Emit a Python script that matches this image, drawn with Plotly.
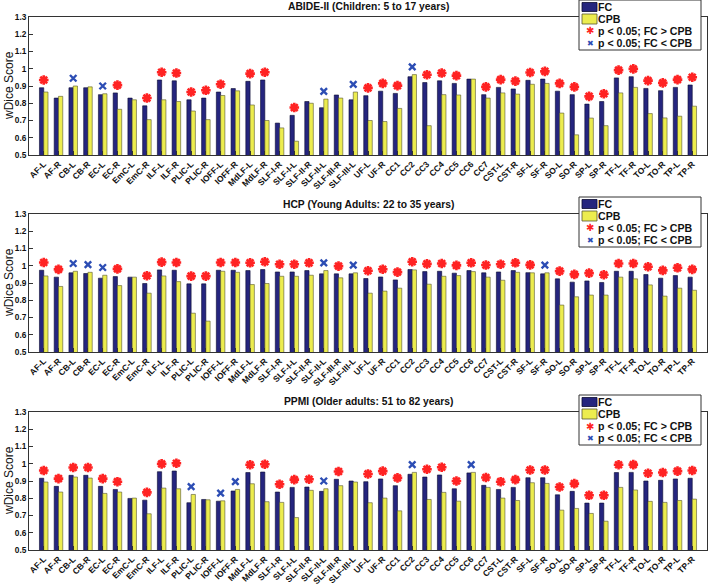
import plotly.graph_objects as go
from plotly.subplots import make_subplots

tracts = ["AF-L", "AF-R", "CB-L", "CB-R", "EC-L", "EC-R", "EmC-L", "EmC-R",
          "ILF-L", "ILF-R", "PLIC-L", "PLIC-R", "IOFF-L", "IOFF-R", "MdLF-L",
          "MdLF-R", "SLF-I-R", "SLF-I-L", "SLF-II-R", "SLF-II-L", "SLF-III-R",
          "SLF-III-L", "UF-L", "UF-R", "CC1", "CC2", "CC3", "CC4", "CC5", "CC6",
          "CC7", "CST-L", "CST-R", "SF-L", "SF-R", "SO-L", "SO-R", "SP-L", "SP-R",
          "TF-L", "TF-R", "TO-L", "TO-R", "TP-L", "TP-R"]

titles = ["ABIDE-II (Children: 5 to 17 years)",
          "HCP (Young Adults: 22 to 35 years)",
          "PPMI (Older adults: 51 to 82 years)"]

# r = p < 0.05 and FC > CPB, b = p < 0.05 and FC < CPB, - = not significant
fc_abide = [0.89, 0.83, 0.89, 0.89, 0.85, 0.86, 0.83, 0.785, 0.935, 0.93, 0.82, 0.83,
            0.865, 0.885, 0.927, 0.935, 0.685, 0.73, 0.81, 0.774, 0.848, 0.82, 0.844,
            0.87, 0.857, 0.954, 0.92, 0.93, 0.915, 0.94, 0.85, 0.892, 0.883, 0.933,
            0.94, 0.87, 0.85, 0.795, 0.81, 0.947, 0.954, 0.886, 0.873, 0.892, 0.906]
cpb_abide = [0.865, 0.84, 0.9, 0.895, 0.855, 0.765, 0.82, 0.705, 0.82, 0.81, 0.755, 0.705,
             0.845, 0.872, 0.79, 0.70, 0.657, 0.58, 0.80, 0.824, 0.83, 0.865, 0.70,
             0.694, 0.77, 0.966, 0.67, 0.85, 0.848, 0.94, 0.83, 0.86, 0.853, 0.91,
             0.915, 0.743, 0.617, 0.714, 0.67, 0.86, 0.892, 0.74, 0.715, 0.725, 0.783]
sig_abide = ["r", "-", "b", "-", "b", "r", "-", "r", "r", "r", "r", "r", "r", "-", "r",
             "r", "-", "r", "-", "b", "-", "b", "r", "r", "r", "b", "r", "r", "r", "-",
             "r", "r", "r", "r", "r", "r", "r", "r", "r", "r", "r", "r", "r", "r", "r"]

fc_hcp = [0.974, 0.934, 0.959, 0.955, 0.928, 0.937, 0.934, 0.897, 0.976, 0.974, 0.895,
          0.895, 0.974, 0.974, 0.972, 0.978, 0.964, 0.964, 0.972, 0.953, 0.953, 0.953,
          0.926, 0.935, 0.918, 0.978, 0.966, 0.968, 0.957, 0.972, 0.959, 0.964, 0.972,
          0.96, 0.953, 0.924, 0.905, 0.912, 0.903, 0.968, 0.968, 0.949, 0.928, 0.943, 0.934]
cpb_hcp = [0.941, 0.88, 0.968, 0.962, 0.945, 0.885, 0.934, 0.841, 0.941, 0.908, 0.725,
           0.679, 0.968, 0.962, 0.891, 0.897, 0.939, 0.939, 0.945, 0.972, 0.93, 0.959,
           0.841, 0.853, 0.87, 0.976, 0.893, 0.939, 0.943, 0.966, 0.934, 0.916, 0.962,
           0.959, 0.959, 0.772, 0.82, 0.83, 0.83, 0.934, 0.924, 0.889, 0.824, 0.87, 0.858]
sig_hcp = ["r", "r", "b", "b", "b", "r", "-", "r", "r", "r", "r", "r", "r", "r", "r",
           "r", "r", "r", "r", "b", "r", "b", "r", "r", "r", "r", "r", "r", "r", "r",
           "r", "r", "r", "r", "b", "r", "r", "r", "r", "r", "r", "r", "r", "r", "r"]

fc_ppmi = [0.916, 0.869, 0.933, 0.933, 0.869, 0.851, 0.799, 0.789, 0.954, 0.958, 0.774,
           0.793, 0.783, 0.842, 0.949, 0.952, 0.836, 0.863, 0.865, 0.84, 0.91, 0.9,
           0.896, 0.912, 0.873, 0.939, 0.923, 0.935, 0.855, 0.947, 0.875, 0.851, 0.863,
           0.919, 0.919, 0.82, 0.84, 0.772, 0.772, 0.949, 0.95, 0.9, 0.904, 0.912, 0.916]
cpb_ppmi = [0.894, 0.836, 0.923, 0.917, 0.828, 0.836, 0.801, 0.71, 0.859, 0.855, 0.822,
            0.791, 0.785, 0.851, 0.884, 0.78, 0.776, 0.688, 0.846, 0.855, 0.873, 0.894,
            0.774, 0.801, 0.727, 0.95, 0.793, 0.834, 0.783, 0.95, 0.863, 0.801, 0.787,
            0.89, 0.886, 0.731, 0.741, 0.712, 0.667, 0.863, 0.848, 0.782, 0.776, 0.787, 0.795]
sig_ppmi = ["r", "r", "r", "r", "r", "r", "-", "r", "r", "r", "b", "-", "b", "b", "r",
            "r", "r", "r", "r", "b", "r", "-", "r", "r", "r", "b", "r", "r", "r", "b",
            "r", "r", "r", "r", "r", "r", "r", "r", "r", "r", "r", "r", "r", "r", "r"]

panels = [(fc_abide, cpb_abide, sig_abide),
          (fc_hcp, cpb_hcp, sig_hcp),
          (fc_ppmi, cpb_ppmi, sig_ppmi)]

FC_COLOR = "#25257e"
CPB_COLOR = "#ecec4e"
RED = "#ff2323"
BLUE = "#2c4db4"
FONT = "Liberation Sans"

# page geometry (pixels)
L, T, W, H = 29, 17, 678, 533
panel_tops = [17, 214, 412]
panel_h = 138


def px(x):
    return (x - L) / W


def py(y):
    return (T + H - y) / H


fig = make_subplots(rows=3, cols=1)

for i, (fc, cpb, sig) in enumerate(panels):
    row = i + 1
    fig.add_trace(go.Bar(x=tracts, y=fc, name="FC", marker_color=FC_COLOR,
                         marker_line=dict(color="#0a0a30", width=0.6)), row=row, col=1)
    fig.add_trace(go.Bar(x=tracts, y=cpb, name="CPB", marker_color=CPB_COLOR,
                         marker_line=dict(color="#555533", width=0.6)), row=row, col=1)

    red_x = [t for t, s in zip(tracts, sig) if s == "r"]
    red_y = [max(a, b) + 0.045 for a, b, s in zip(fc, cpb, sig) if s == "r"]
    blue_x = [t for t, s in zip(tracts, sig) if s == "b"]
    blue_y = [max(a, b) + 0.045 for a, b, s in zip(fc, cpb, sig) if s == "b"]
    fig.add_trace(go.Scatter(x=red_x, y=red_y, mode="markers", name="p < 0.05; FC > CPB",
                             marker=dict(symbol="asterisk-open", size=8, color=RED,
                                         line=dict(color=RED, width=2.6))), row=row, col=1)
    fig.add_trace(go.Scatter(x=blue_x, y=blue_y, mode="markers", name="p < 0.05; FC < CPB",
                             marker=dict(symbol="x-thin-open", size=6.5, color=BLUE,
                                         line=dict(color=BLUE, width=2.4))), row=row, col=1)

    top = panel_tops[i]
    dom = [py(top + panel_h), py(top)]
    fig.update_yaxes(domain=dom, row=row, col=1)

    # panel title
    fig.add_annotation(text=f"<b>{titles[i]}</b>", xref="paper", yref="paper",
                       x=0.5, y=py(top - 10), xanchor="center", yanchor="middle",
                       showarrow=False, font=dict(family=FONT, size=10.3, color="#111"))
    # y-axis title
    fig.add_annotation(text="wDice Score", xref="paper", yref="paper",
                       x=px(9), y=py(top + panel_h / 2), textangle=-90,
                       xanchor="center", yanchor="middle", showarrow=False,
                       font=dict(family=FONT, size=12, color="#111"))

    # legend box
    lt = max(top - 17, 0)
    fig.add_shape(type="rect", xref="paper", yref="paper",
                  x0=px(579), x1=px(701), y0=py(lt), y1=py(lt + 50),
                  line=dict(color="#333", width=1), fillcolor="white")
    fig.add_shape(type="rect", xref="paper", yref="paper",
                  x0=px(582), x1=px(597), y0=py(lt + 2.5), y1=py(lt + 11.5),
                  line=dict(color="#0a0a30", width=0.8), fillcolor=FC_COLOR)
    fig.add_shape(type="rect", xref="paper", yref="paper",
                  x0=px(582), x1=px(597), y0=py(lt + 14), y1=py(lt + 24),
                  line=dict(color="#555533", width=0.8), fillcolor=CPB_COLOR)
    labels = ["FC", "CPB", "p < 0.05; FC > CPB", "p < 0.05; FC < CPB"]
    offsets = [7, 19, 31, 43]
    for lab, off in zip(labels, offsets):
        fig.add_annotation(text=f"<b>{lab}</b>", xref="paper", yref="paper",
                           x=px(596), y=py(lt + off), xanchor="left", yanchor="middle",
                           showarrow=False, font=dict(family=FONT, size=10.6, color="#111"))
    fig.add_annotation(text="✱", xref="paper", yref="paper", x=px(590), y=py(lt + 31),
                       xanchor="center", yanchor="middle", showarrow=False,
                       font=dict(family="DejaVu Sans", size=10, color=RED))
    fig.add_annotation(text="✖", xref="paper", yref="paper", x=px(590), y=py(lt + 43),
                       xanchor="center", yanchor="middle", showarrow=False,
                       font=dict(family="DejaVu Sans", size=8, color=BLUE))

fig.update_xaxes(type="category", range=[-1, 45], tickangle=-45,
                 tickfont=dict(family=FONT, size=8.5, color="#111", weight="bold"),
                 showline=True, mirror=True, linecolor="#333", linewidth=1,
                 ticks="inside", ticklen=4, tickcolor="#333", showgrid=False,
                 automargin=False)
fig.update_yaxes(range=[0.5, 1.3], dtick=0.1, tick0=0.5,
                 tickfont=dict(family=FONT, size=8.3, color="#111", weight="bold"),
                 showline=True, mirror=True, linecolor="#333", linewidth=1,
                 ticks="inside", ticklen=4, tickcolor="#333", showgrid=False,
                 zeroline=False, automargin=False)

fig.update_layout(
    width=709,
    height=585,
    margin=dict(l=L, r=709 - L - W, t=T, b=585 - T - H),
    barmode="group",
    bargap=0.42,
    bargroupgap=0,
    showlegend=False,
    plot_bgcolor="white",
    paper_bgcolor="white",
)

fig.write_html("out.html", config={"displayModeBar": False},
               post_script="document.body.style.margin = '0';")
